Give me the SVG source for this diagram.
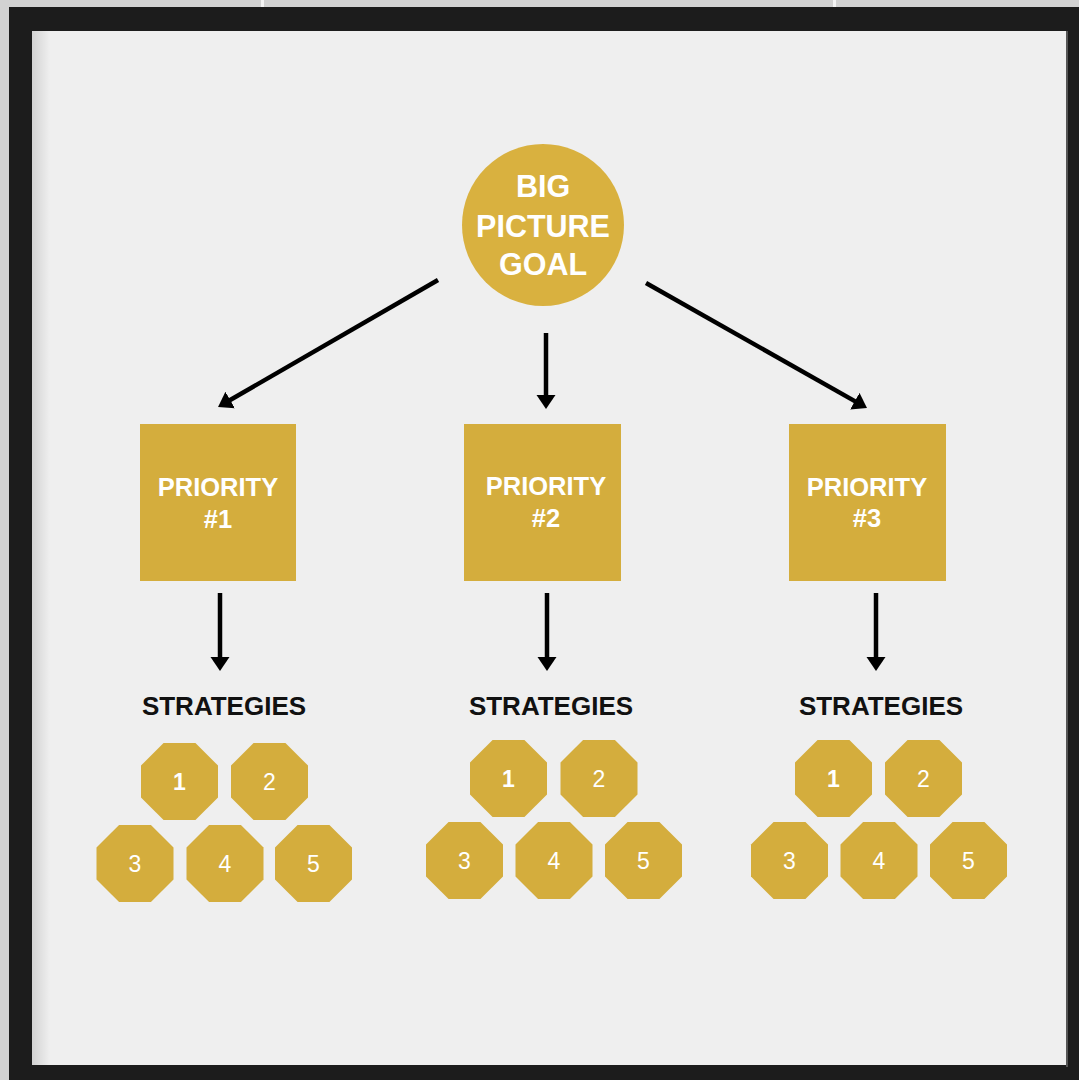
<svg xmlns="http://www.w3.org/2000/svg" xmlns:xlink="http://www.w3.org/1999/xlink" width="1079" height="1080" viewBox="0 0 1079 1080">
<style>
.gold{fill:#D4AD3D}
.goal{fill:#D9B13F}
.wt{fill:#FFFFFF;font-family:"Liberation Sans",Arial,sans-serif;font-weight:bold;text-anchor:middle}
.num{fill:#FFFFFF;font-family:"Liberation Sans",Arial,sans-serif;font-size:23px;text-anchor:middle}
.lbl{fill:#111111;font-family:"Liberation Sans",Arial,sans-serif;font-weight:bold;font-size:26px;text-anchor:middle}
.conn{stroke:#000;stroke-width:4.5;fill:none;marker-end:url(#ah)}
</style>
<defs>
<marker id="ah" viewBox="0 0 14 20" refX="4" refY="10" markerWidth="14" markerHeight="20" markerUnits="userSpaceOnUse" orient="auto">
<path d="M0,0.5 L14,10 L0,19.5 Z" fill="#000"/>
</marker>
<polygon id="oct" points="15.95,-38.5 38.5,-15.95 38.5,15.95 15.95,38.5 -15.95,38.5 -38.5,15.95 -38.5,-15.95 -15.95,-38.5"/>
<linearGradient id="shL" x1="0" y1="0" x2="1" y2="0">
<stop offset="0" stop-color="#000" stop-opacity="0.12"/>
<stop offset="1" stop-color="#000" stop-opacity="0"/>
</linearGradient>
</defs>
<!-- wall and frame -->
<rect x="0" y="0" width="1079" height="1080" fill="#D2D2D2"/>
<rect x="261" y="0" width="3" height="7" fill="#F4F4F4"/>
<rect x="833" y="0" width="3" height="7" fill="#F4F4F4"/>
<rect x="9" y="7" width="1070" height="1073" fill="#1C1C1C"/>
<rect x="32" y="31" width="1034" height="1034" fill="#EFEFEF"/>
<rect x="32" y="31" width="18" height="1034" fill="url(#shL)"/>
<rect x="1066" y="31" width="2" height="1036" fill="#555555"/>

<g id="connectors">
<line class="conn" x1="438" y1="280" x2="226.7" y2="402"/>
<line class="conn" x1="546" y1="333" x2="546" y2="399"/>
<line class="conn" x1="646" y1="283" x2="858.3" y2="403.1"/>
<line class="conn" x1="220" y1="593" x2="220" y2="661"/>
<line class="conn" x1="547" y1="593" x2="547" y2="661"/>
<line class="conn" x1="876" y1="593" x2="876" y2="661"/>
</g>

<g id="goal">
<circle class="goal" cx="543" cy="225" r="81"/>
<text class="wt" font-size="30.5" x="543" y="197">BIG</text>
<text class="wt" font-size="30.5" x="543" y="237">PICTURE</text>
<text class="wt" font-size="30.5" x="543" y="275">GOAL</text>
</g>

<g id="priority1">
<rect class="gold" x="140" y="424" width="156" height="157"/>
<text class="wt" font-size="25.5" x="218" y="496">PRIORITY</text>
<text class="wt" font-size="25.5" x="218" y="528">#1</text>
</g>
<g id="priority2">
<rect class="gold" x="464" y="424" width="157" height="157"/>
<text class="wt" font-size="25.5" x="546" y="495">PRIORITY</text>
<text class="wt" font-size="25.5" x="546" y="527">#2</text>
</g>
<g id="priority3">
<rect class="gold" x="789" y="424" width="157" height="157"/>
<text class="wt" font-size="25.5" x="867" y="496">PRIORITY</text>
<text class="wt" font-size="25.5" x="867" y="527">#3</text>
</g>

<g id="strategies1-label"><text class="lbl" x="224" y="715">STRATEGIES</text></g>
<g id="strategies2-label"><text class="lbl" x="551" y="715">STRATEGIES</text></g>
<g id="strategies3-label"><text class="lbl" x="881" y="715">STRATEGIES</text></g>

<g id="s1-1"><use href="#oct" class="gold" x="179.5" y="781.5"/><text class="num" font-weight="bold" x="179.5" y="790">1</text></g>
<g id="s1-2"><use href="#oct" class="gold" x="269.5" y="781.5"/><text class="num" x="269.5" y="790">2</text></g>
<g id="s1-3"><use href="#oct" class="gold" x="135" y="863.5"/><text class="num" x="135" y="872">3</text></g>
<g id="s1-4"><use href="#oct" class="gold" x="225" y="863.5"/><text class="num" x="225" y="872">4</text></g>
<g id="s1-5"><use href="#oct" class="gold" x="313.5" y="863.5"/><text class="num" x="313.5" y="872">5</text></g>

<g id="s2-1"><use href="#oct" class="gold" x="508.5" y="778.5"/><text class="num" font-weight="bold" x="508.5" y="787">1</text></g>
<g id="s2-2"><use href="#oct" class="gold" x="599" y="778.5"/><text class="num" x="599" y="787">2</text></g>
<g id="s2-3"><use href="#oct" class="gold" x="464.5" y="860.5"/><text class="num" x="464.5" y="869">3</text></g>
<g id="s2-4"><use href="#oct" class="gold" x="554" y="860.5"/><text class="num" x="554" y="869">4</text></g>
<g id="s2-5"><use href="#oct" class="gold" x="643.5" y="860.5"/><text class="num" x="643.5" y="869">5</text></g>

<g id="s3-1"><use href="#oct" class="gold" x="833.5" y="778.5"/><text class="num" font-weight="bold" x="833.5" y="787">1</text></g>
<g id="s3-2"><use href="#oct" class="gold" x="923.5" y="778.5"/><text class="num" x="923.5" y="787">2</text></g>
<g id="s3-3"><use href="#oct" class="gold" x="789.5" y="860.5"/><text class="num" x="789.5" y="869">3</text></g>
<g id="s3-4"><use href="#oct" class="gold" x="879" y="860.5"/><text class="num" x="879" y="869">4</text></g>
<g id="s3-5"><use href="#oct" class="gold" x="968.5" y="860.5"/><text class="num" x="968.5" y="869">5</text></g>
</svg>
